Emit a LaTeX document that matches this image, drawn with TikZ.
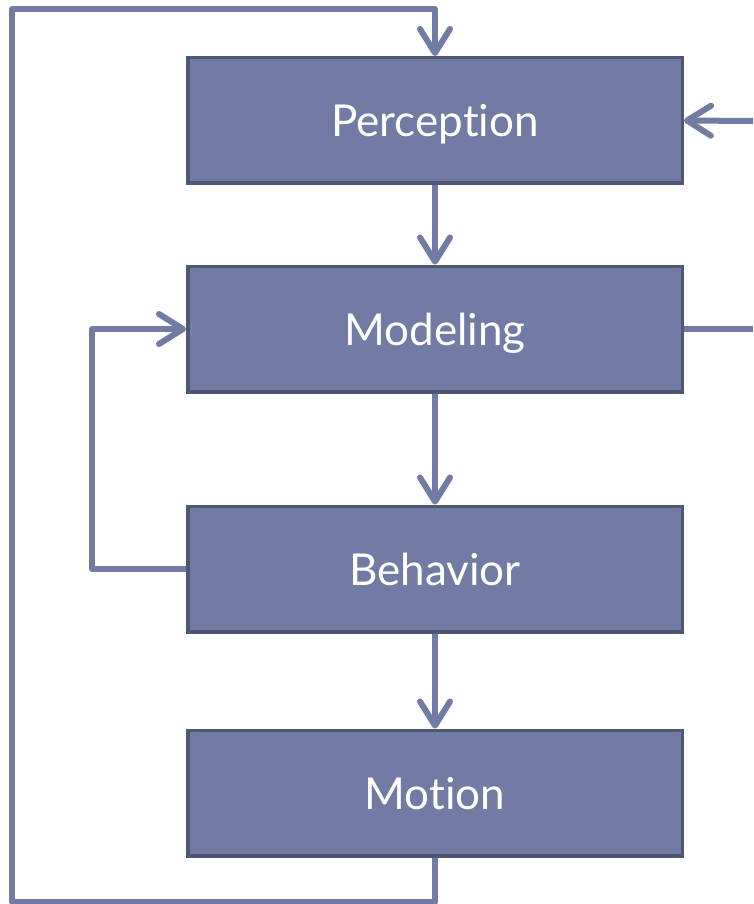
\documentclass[tikz,border=0pt]{standalone}
\usepackage{fontspec}
\setmainfont{Lato}[Ligatures={NoCommon}]
\usetikzlibrary{arrows.meta}
\definecolor{boxfill}{HTML}{717BA3}
\definecolor{boxline}{HTML}{4F5775}
\tikzset{
  stage/.style={draw=boxline, line width=3.5pt, fill=boxfill, minimum width=494.5pt, minimum height=125.5pt, text depth=0pt, text=white, font=\fontsize{44}{52}\selectfont},
  link/.style={draw=boxfill, line width=6pt, line join=round},
  flow/.style={link, -{Straight Barb[length=24pt,width=30pt,round]}}
}
\begin{document}
\begin{tikzpicture}[x=1pt, y=-1pt]
    \useasboundingbox (0,0) rectangle (753,904);
    % the four stages
    \node[stage] (per) at (435,120.5) {Perception};
    \node[stage] (mod) at (435,329) {Modeling};
    \node[stage] (beh) at (435,569) {Behavior};
    \node[stage] (mot) at (435,793) {Motion};

    % main chain
    \draw[flow] (per.south) -- (mod.north);
    \draw[flow] (mod.south) -- (beh.north);
    \draw[flow] (beh.south) -- (mot.north);

    % behavior back to modeling
    \draw[flow] (beh.west) -- ++(-94,0) |- (mod.west);

    % outer loop from motion to perception
    \coordinate (tl) at (12,9);
    \draw[flow] (mot.south) -- ++(0,44) -| (tl) -| (per.north);

    % right side, leaving the picture
    \coordinate (rin) at (753,121);
    \coordinate (rout) at (753,329);
    \draw[flow] (rin) -- (per.east);
    \draw[link] (mod.east) -- (rout);
\end{tikzpicture}
\end{document}
